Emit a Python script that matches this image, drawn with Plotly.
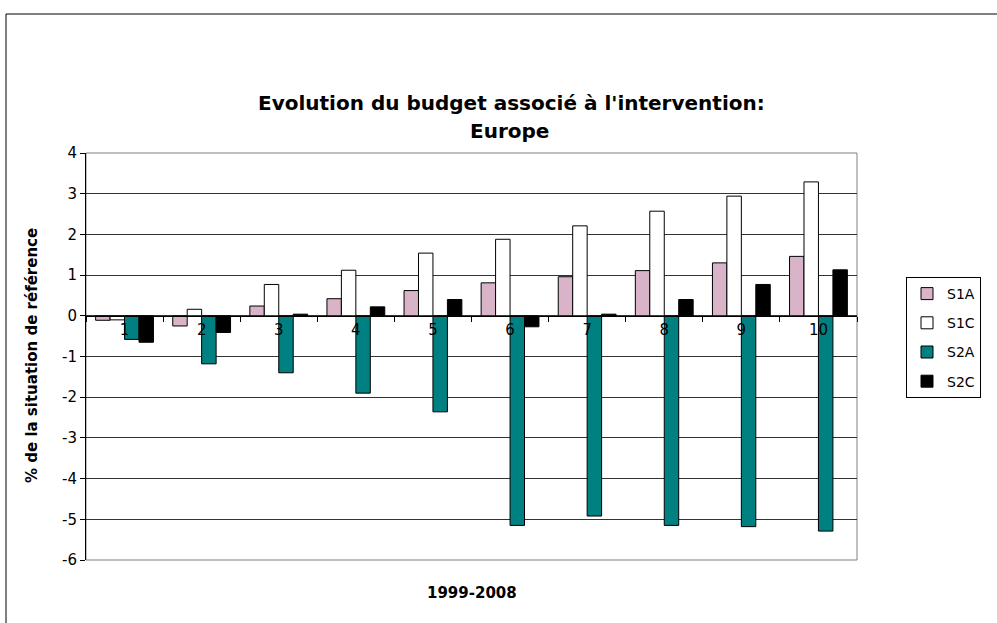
import plotly.graph_objects as go

categories = ["1", "2", "3", "4", "5", "6", "7", "8", "9", "10"]
s1a = [-0.11, -0.25, 0.24, 0.42, 0.62, 0.81, 0.96, 1.11, 1.30, 1.46]
s1c = [-0.10, 0.16, 0.77, 1.12, 1.54, 1.88, 2.21, 2.57, 2.94, 3.29]
s2a = [-0.58, -1.18, -1.40, -1.90, -2.36, -5.15, -4.92, -5.15, -5.18, -5.29]
s2c = [-0.65, -0.41, 0.04, 0.22, 0.40, -0.27, 0.04, 0.40, 0.77, 1.13]
y_ticks = [-6, -5, -4, -3, -2, -1, 0, 1, 2, 3, 4]

FONT = "DejaVu Sans, Arial, sans-serif"

series = [
    ("S1A", s1a, "#D9B3C7"),
    ("S1C", s1c, "#FFFFFF"),
    ("S2A", s2a, "#008080"),
    ("S2C", s2c, "#000000"),
]

fig = go.Figure()
for name, vals, col in series:
    fig.add_trace(go.Bar(
        x=categories, y=vals, name=name, legendgroup=name,
        marker=dict(color=col, line=dict(color="#000000", width=1)),
    ))

W, H = 997, 623
L, R, T, B = 86, 857, 153, 560

def px_x(px):
    return (px - L) / (R - L)

def px_y(py):
    return (B - py) / (B - T)

fig.update_layout(
    width=W, height=H,
    margin=dict(l=L, r=W - R, t=T, b=H - B),
    paper_bgcolor="white", plot_bgcolor="white",
    barmode="group", bargap=0.25, bargroupgap=0,
    font=dict(family=FONT, size=14, color="black"),
    showlegend=True,
    legend=dict(
        x=px_x(906), y=px_y(277), xanchor="left", yanchor="top",
        bordercolor="black", borderwidth=1, bgcolor="white",
        font=dict(size=14, family=FONT), tracegroupgap=8,
        itemwidth=30,
    ),
    xaxis=dict(
        type="category", categoryorder="array", categoryarray=categories,
        anchor="free", position=px_y(315.8),
        showline=True, linecolor="black", linewidth=1,
        ticks="outside", ticklen=5, tickcolor="black", tickson="boundaries",
        showgrid=False, zeroline=False,
        tickfont=dict(size=15, family=FONT),
    ),
    yaxis=dict(
        range=[-6, 4], tickvals=y_ticks, ticktext=[str(v) for v in y_ticks],
        showline=True, linecolor="black", linewidth=1,
        ticks="outside", ticklen=5, tickcolor="black",
        showgrid=True, gridcolor="#333333", gridwidth=1,
        zeroline=False, tickfont=dict(size=15, family=FONT),
    ),
    shapes=[
        dict(type="rect", xref="paper", yref="paper", x0=0, x1=1, y0=0, y1=1,
             line=dict(color="#808080", width=1), layer="below"),
        dict(type="rect", xref="paper", yref="paper",
             x0=px_x(6), x1=px_x(1005), y0=px_y(14), y1=px_y(640),
             line=dict(color="black", width=1), layer="below"),
    ],
    annotations=[
        dict(text="<b>Evolution du budget associé à l'intervention:</b>",
             xref="paper", yref="paper", x=px_x(511), y=px_y(103),
             xanchor="center", yanchor="middle", showarrow=False,
             font=dict(size=20, family=FONT)),
        dict(text="<b>Europe</b>",
             xref="paper", yref="paper", x=px_x(509), y=px_y(131),
             xanchor="center", yanchor="middle", showarrow=False,
             font=dict(size=20, family=FONT)),
        dict(text="<b>1999-2008</b>", xref="paper", yref="paper",
             x=px_x(472), y=px_y(593), xanchor="center", yanchor="middle",
             showarrow=False, font=dict(size=15, family=FONT)),
        dict(text="<b>% de la situation de référence</b>", xref="paper", yref="paper",
             x=px_x(32), y=px_y(356), xanchor="center", yanchor="middle",
             textangle=-90, showarrow=False, font=dict(size=15, family=FONT)),
    ],
)

fig.write_html("out.html")
